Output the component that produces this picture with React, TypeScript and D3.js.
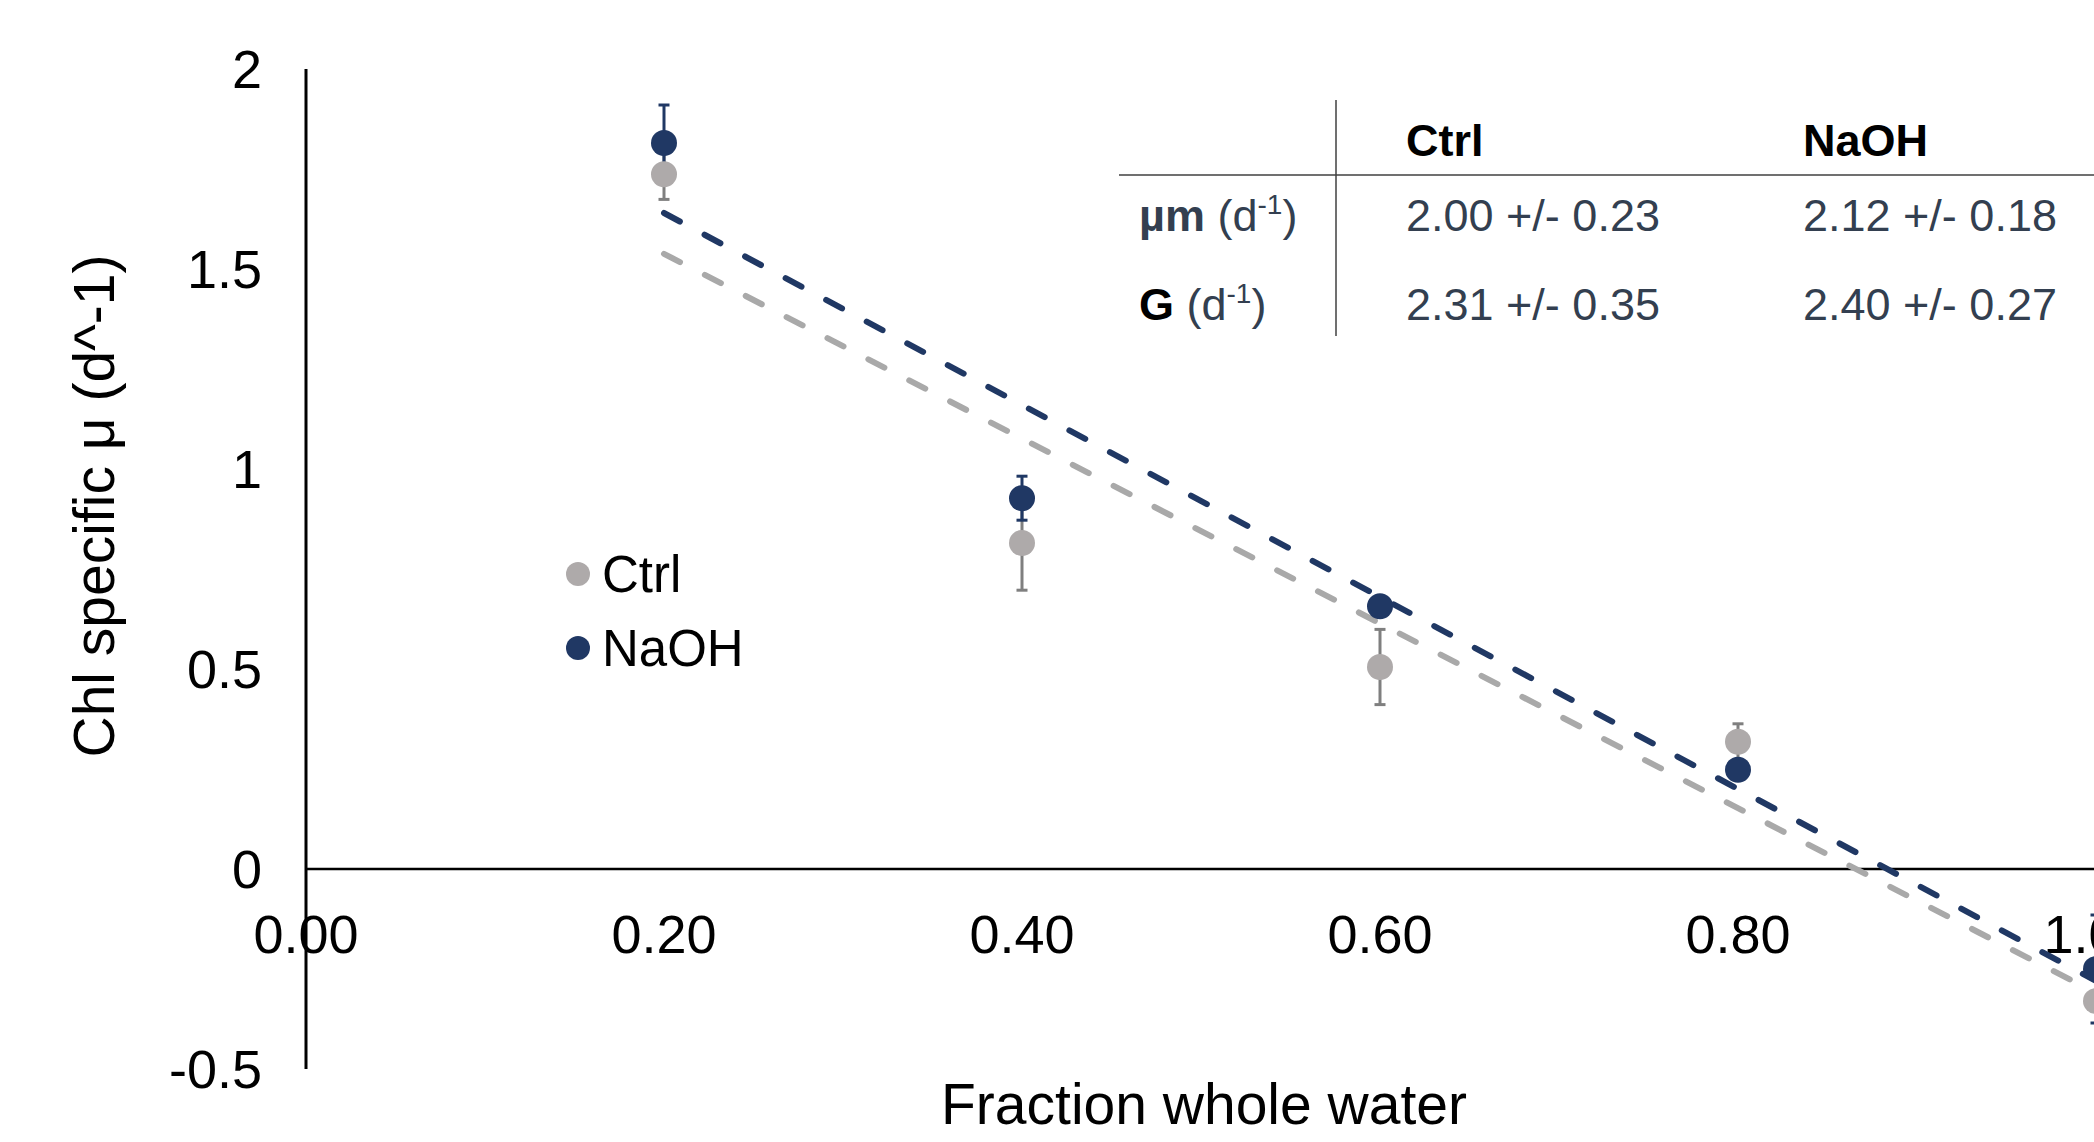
import React from "react";
import * as d3 from "d3";

// fraction of whole water in each dilution
const fractions = [0.2, 0.4, 0.6, 0.8, 1.0];

// chl specific growth rate, means and error
const ctrlMean = [1.737, 0.815, 0.505, 0.318, -0.33];
const ctrlErr = [0.063, 0.118, 0.094, 0.045, 0.02];
const naohMean = [1.815, 0.927, 0.657, 0.248, -0.25];
const naohErr = [0.095, 0.055, 0.02, 0.02, 0.135];

// regression: mu = um - G * fraction
const seriesNames = ["Ctrl", "NaOH"];
const umVal = [2.0, 2.12];
const umSd = [0.23, 0.18];
const gVal = [2.31, 2.4];
const gSd = [0.35, 0.27];

const yTicks = [-0.5, 0, 0.5, 1, 1.5, 2];
const xTicks = [0, 0.2, 0.4, 0.6, 0.8, 1.0];

const W = 2094;
const H = 1142;
const FONT = "'Liberation Sans', Arial, sans-serif";
const NAVY = "#203864";
const GREY = "#aeaaaa";
const GREY_ERR = "#7f7f7f";
const GREY_LINE = "#a9a9a9";
const SLATE = "#333f50";

export default function App() {
  const x = d3.scaleLinear().domain([0, 1]).range([306, 2096]);
  const y = d3.scaleLinear().domain([-0.5, 2]).range([1069, 69]);
  const fmt = d3.format(".2f");

  const series = [
    { name: "Ctrl", mean: ctrlMean, err: ctrlErr, fill: GREY, errColor: GREY_ERR, line: GREY_LINE, idx: 0 },
    { name: "NaOH", mean: naohMean, err: naohErr, fill: NAVY, errColor: NAVY, line: NAVY, idx: 1 },
  ];

  const line = d3.line<number>().x((d) => x(d[0])).y((d) => y(d[1]));

  const fitPath = (i) => {
    const xs = [fractions[0], fractions[fractions.length - 1]];
    return line(xs.map((f) => [f, umVal[i] - gVal[i] * f]));
  };

  // table layout
  const tX0 = 1119, tVx = 1336, tCol = [1406, 1803];
  const tRowY = [231, 320];

  return (
    <div style={{ position: "absolute", left: 0, top: 0 }}>
      <svg width={W} height={H} style={{ display: "block", background: "#fff" }} fontFamily={FONT}>
        {/* axes */}
        <line x1={x(0)} x2={W} y1={y(0)} y2={y(0)} stroke="#000" strokeWidth={2.5} />
        <line x1={x(0)} x2={x(0)} y1={y(2)} y2={y(-0.5)} stroke="#000" strokeWidth={3} />
        {yTicks.map((t) => (
          <text key={t} x={262} y={y(t)} dy="0.36em" textAnchor="end" fontSize={54} fill="#000">
            {t === -0.5 ? "-0.5" : String(t)}
          </text>
        ))}
        {xTicks.map((t) => (
          <text key={t} x={x(t)} y={953} textAnchor="middle" fontSize={54} fill="#000">
            {fmt(t)}
          </text>
        ))}
        <text x={1204} y={1124} textAnchor="middle" fontSize={57} fill="#000">
          Fraction whole water
        </text>
        <text transform={`translate(114,506) rotate(-90)`} textAnchor="middle" fontSize={57} fill="#000">
          Chl specific μ (d^-1)
        </text>

        {/* trend lines */}
        {series.map((s) => (
          <path key={s.name} d={fitPath(s.idx)} fill="none" stroke={s.line} strokeWidth={6}
            strokeDasharray="18 28" strokeLinecap="round" />
        ))}

        {/* error bars */}
        {series.map((s) => (
          <g key={s.name} stroke={s.errColor} strokeWidth={3}>
            {fractions.map((f, i) => {
              const cx = x(f);
              const y1 = y(s.mean[i] + s.err[i]);
              const y2 = y(s.mean[i] - s.err[i]);
              return (
                <g key={i}>
                  <line x1={cx} x2={cx} y1={y1} y2={y2} />
                  <line x1={cx - 5.5} x2={cx + 5.5} y1={y1} y2={y1} />
                  <line x1={cx - 5.5} x2={cx + 5.5} y1={y2} y2={y2} />
                </g>
              );
            })}
          </g>
        ))}

        {/* markers */}
        {series.map((s) => (
          <g key={s.name} fill={s.fill}>
            {fractions.map((f, i) => (
              <circle key={i} cx={x(f)} cy={y(s.mean[i])} r={13} />
            ))}
          </g>
        ))}

        {/* legend */}
        {series.map((s, i) => (
          <g key={s.name} transform={`translate(578,${574 + i * 74})`}>
            <circle r={12} fill={s.fill} />
            <text x={24} y={18} fontSize={51} fill="#000">{s.name}</text>
          </g>
        ))}

        {/* table of fit parameters */}
        <line x1={tX0} x2={W} y1={175} y2={175} stroke="#404040" strokeWidth={1.5} />
        <line x1={tVx} x2={tVx} y1={100} y2={336} stroke="#404040" strokeWidth={1.5} />
        {seriesNames.map((n, i) => (
          <text key={n} x={tCol[i]} y={156} fontSize={45} fontWeight="bold" fill="#000">{n}</text>
        ))}
        <text x={1139} y={tRowY[0]} fontSize={45} fill={SLATE}>
          <tspan fontWeight="bold">µm</tspan>
          <tspan> (d</tspan>
          <tspan fontSize={28} dy={-17}>-1</tspan>
          <tspan dy={17}>)</tspan>
        </text>
        <text x={1139} y={tRowY[1]} fontSize={45} fill={SLATE}>
          <tspan fontWeight="bold" fill="#000">G</tspan>
          <tspan> (d</tspan>
          <tspan fontSize={28} dy={-17}>-1</tspan>
          <tspan dy={17}>)</tspan>
        </text>
        {seriesNames.map((n, i) => (
          <g key={n}>
            <text x={tCol[i]} y={tRowY[0]} fontSize={45} fill={SLATE}>
              {`${fmt(umVal[i])} +/- ${fmt(umSd[i])}`}
            </text>
            <text x={tCol[i]} y={tRowY[1]} fontSize={45} fill={SLATE}>
              {`${fmt(gVal[i])} +/- ${fmt(gSd[i])}`}
            </text>
          </g>
        ))}
      </svg>
    </div>
  );
}
